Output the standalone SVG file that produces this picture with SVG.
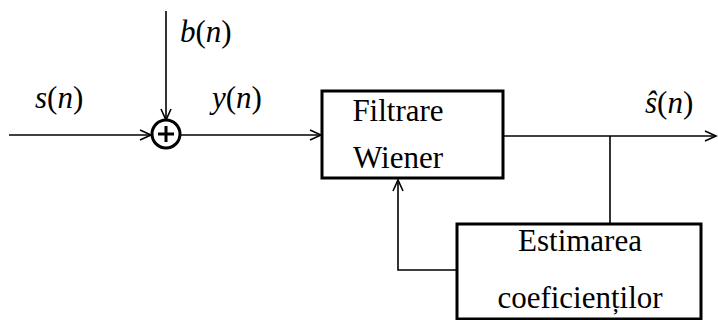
<svg xmlns="http://www.w3.org/2000/svg" width="718" height="320" viewBox="0 0 718 320">
<style>
.conn{fill:none;stroke:#000;stroke-width:1.6}
.box{fill:#fff;stroke:#000;stroke-width:3}
.t{font-family:"Liberation Serif","Times New Roman",serif;font-size:31px;fill:#000}
.i{font-style:italic}
</style>
<defs>
<marker id="ah" markerUnits="userSpaceOnUse" markerWidth="16" markerHeight="14" viewBox="-13 -7 16 14" refX="0" refY="0" orient="auto">
<path d="M-11,-5 L0,0 L-11,5" fill="none" stroke="#000" stroke-width="1.6"/>
</marker>
</defs>
<rect width="718" height="320" fill="#fff"/>
<g id="connectors">
<line class="conn" x1="9" y1="135" x2="151" y2="135" marker-end="url(#ah)"/>
<line class="conn" x1="166" y1="11" x2="166" y2="120" marker-end="url(#ah)"/>
<line class="conn" x1="181" y1="135" x2="321" y2="135" marker-end="url(#ah)"/>
<line class="conn" x1="503" y1="136" x2="716" y2="136" marker-end="url(#ah)"/>
<line class="conn" x1="610" y1="136" x2="610" y2="223"/>
<polyline class="conn" points="457,270 398,270 398,180" marker-end="url(#ah)"/>
</g>
<g id="sum">
<circle cx="166" cy="134" r="14" fill="#fff" stroke="#000" stroke-width="3"/>
<path d="M166,126 V142 M158,134 H174" stroke="#000" stroke-width="3"/>
</g>
<g id="filtrare">
<rect class="box" x="322" y="91" width="181" height="87"/>
<text class="t" font-family="Liberation Serif" x="398" y="121" text-anchor="middle">Filtrare</text>
<text class="t" font-family="Liberation Serif" x="398" y="168" text-anchor="middle">Wiener</text>
</g>
<g id="estimarea">
<rect class="box" x="457" y="224" width="244" height="95"/>
<text class="t" font-family="Liberation Serif" x="580" y="251" text-anchor="middle">Estimarea</text>
<text class="t" font-family="Liberation Serif" x="580" y="308" text-anchor="middle">coeficienților</text>
</g>
<g id="labels">
<text class="t" font-family="Liberation Serif" x="35" y="108"><tspan class="i">s</tspan>(<tspan class="i">n</tspan>)</text>
<text class="t" font-family="Liberation Serif" x="180" y="42"><tspan class="i">b</tspan>(<tspan class="i">n</tspan>)</text>
<text class="t" font-family="Liberation Serif" x="212" y="108"><tspan class="i">y</tspan>(<tspan class="i">n</tspan>)</text>
<text class="t" font-family="Liberation Serif" x="645" y="113"><tspan class="i">ŝ</tspan>(<tspan class="i">n</tspan>)</text>
</g>
</svg>
